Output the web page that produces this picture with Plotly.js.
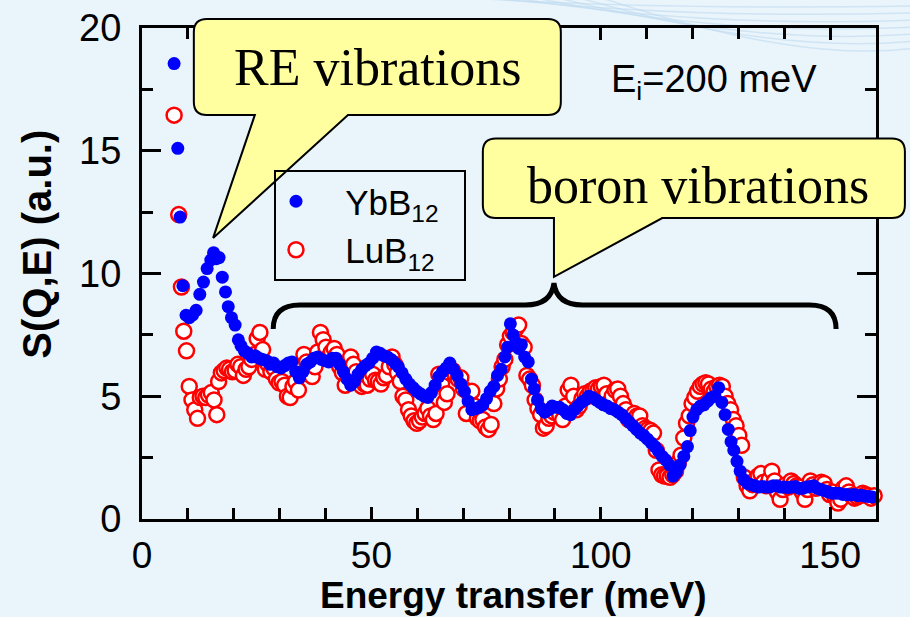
<!DOCTYPE html>
<html>
<head>
<meta charset="utf-8">
<script src="https://cdn.plot.ly/plotly-3.0.1.min.js"></script>
<style>
  html, body { margin: 0; padding: 0; background: #eaf4fb; }
  #chart { width: 910px; height: 617px; }
</style>
</head>
<body>
<div id="chart"></div>
<script>
// ---- Measured spectra: S(Q,E) vs energy transfer, Ei = 200 meV ----
const ybEnergy = [7.0,7.8,8.3,8.9,9.6,10.3,11.0,11.8,12.6,13.4,14.2,15.0,15.6,16.2,16.8,17.5,18.2,18.8,19.5,20.3,
  21.0,21.6,22.3,23.1,23.9,24.7,25.5,26.3,27.1,27.9,28.7,29.5,30.3,31.1,31.9,32.7,33.5,34.3,35.1,35.9,
  36.7,37.5,38.3,39.1,39.9,40.7,41.5,42.3,43.1,43.9,44.7,45.5,46.3,47.1,47.9,48.7,49.5,50.3,51.1,51.9,
  52.7,53.5,54.3,55.1,55.9,56.7,57.5,58.3,59.1,59.9,60.7,61.5,62.3,63.1,63.9,64.7,65.5,66.3,67.1,67.9,
  68.7,69.5,70.3,71.1,71.9,72.7,73.5,74.3,75.1,75.9,76.7,77.5,78.3,79.1,79.7,80.3,80.9,81.5,82.1,82.7,
  83.4,84.2,84.9,85.5,86.2,87.0,87.8,88.6,89.4,90.2,91.0,91.8,92.6,93.4,94.2,95.0,95.8,96.6,97.4,98.2,
  99.0,99.8,100.6,101.4,102.2,103.0,103.8,104.6,105.4,106.2,107.0,107.8,108.6,109.4,110.2,111.0,111.8,112.6,113.4,114.2,
  115.0,115.8,116.5,117.3,118.1,118.9,119.5,120.1,120.9,121.7,122.5,123.3,124.1,124.9,125.7,126.4,127.1,127.8,128.4,129.0,
  129.7,130.4,131.2,132.0,132.8,133.6,134.4,135.2,136.0,136.8,137.6,138.4,139.2,140.0,140.8,141.6,142.4,143.2,144.0,144.8,
  145.6,146.4,147.2,148.0,148.8,149.6,150.4,151.2,152.0,152.8,153.6,154.4,155.2,156.0,156.8,157.6,158.4,159.2];
const ybIntensity = [18.55,15.1,12.3,9.5,8.3,8.2,8.3,8.5,9.15,9.65,10.2,10.55,10.85,10.6,10.65,9.85,9.25,8.65,8.2,7.9,
  7.3,7.05,6.85,6.75,6.6,6.65,6.55,6.5,6.45,6.3,6.35,6.2,6.15,6.25,6.35,6.4,6.0,5.75,6.0,6.3,
  6.4,6.55,6.6,6.5,6.45,6.4,6.55,6.55,6.3,6.0,5.7,5.45,5.6,5.9,6.1,6.25,6.35,6.55,6.8,6.75,
  6.65,6.6,6.5,6.35,6.2,5.95,5.7,5.5,5.35,5.2,5.1,5.0,4.95,5.15,5.45,5.8,6.0,6.15,6.35,6.1,
  5.85,5.5,5.2,4.8,4.45,4.5,4.55,4.65,4.9,5.2,5.4,5.85,6.1,6.6,7.0,7.95,7.5,7.2,6.95,7.1,
  6.6,6.4,5.7,5.3,4.85,4.5,4.35,4.45,4.6,4.55,4.55,4.45,4.3,4.25,4.45,4.6,4.75,4.85,5.0,4.95,
  4.85,4.75,4.65,4.6,4.5,4.45,4.35,4.25,4.1,3.95,3.8,3.65,3.5,3.4,3.25,3.1,2.95,2.75,2.55,2.4,
  2.2,1.75,1.9,2.2,2.55,2.95,3.6,4.15,4.45,4.6,4.65,4.8,4.95,5.0,5.35,4.75,4.25,3.65,3.15,2.8,
  2.35,1.95,1.6,1.45,1.4,1.35,1.3,1.32,1.3,1.3,1.35,1.35,1.3,1.3,1.28,1.3,1.32,1.25,1.25,1.3,
  1.32,1.35,1.25,1.2,1.15,1.1,1.05,1.05,1.05,1.0,1.0,0.98,1.0,0.95,0.97,0.93,0.92,0.9];

const luEnergy = [7.0,8.0,8.6,9.1,9.7,10.3,10.9,11.5,12.1,12.7,13.3,13.9,14.5,15.1,15.7,16.3,16.7,17.3,17.9,18.5,
  19.1,19.7,20.3,20.9,21.5,22.1,22.7,23.3,23.9,24.5,25.1,25.7,26.3,26.9,27.5,28.1,28.7,29.3,29.9,30.5,
  31.1,31.7,32.3,32.9,33.5,34.1,34.7,35.3,35.9,36.5,37.1,37.7,38.3,38.9,39.5,40.1,40.7,41.3,41.9,42.5,
  43.1,43.7,44.3,44.9,45.5,46.1,46.7,47.3,47.9,48.5,49.1,49.7,50.3,50.9,51.5,52.1,52.7,53.3,53.9,54.5,
  55.1,55.7,56.3,56.9,57.5,58.1,58.7,59.3,59.9,60.5,61.1,61.7,62.3,62.9,63.5,64.1,64.7,65.3,65.9,66.5,
  67.1,67.7,68.3,68.9,69.5,70.1,70.7,71.3,71.9,72.5,73.1,73.7,74.3,74.9,75.5,76.1,76.7,77.3,77.9,78.5,
  79.1,79.7,80.3,80.9,81.5,82.1,82.7,83.3,83.9,84.5,85.1,85.7,86.3,86.9,87.5,88.1,88.7,89.3,89.9,90.5,
  91.1,91.7,92.3,92.9,93.5,94.1,94.7,95.3,95.9,96.5,97.1,97.7,98.3,98.9,99.5,100.1,100.7,101.3,101.9,102.5,
  103.1,103.7,104.3,104.9,105.5,106.1,106.7,107.3,107.9,108.5,109.1,109.7,110.3,110.9,111.5,112.1,112.7,113.3,113.9,114.5,
  115.1,115.7,116.3,116.9,117.5,118.1,118.7,119.3,119.9,120.5,121.1,121.7,122.3,122.9,123.5,124.1,124.7,125.3,125.9,126.5,
  127.1,127.7,128.3,128.9,129.5,130.1,130.7,131.3,131.9,132.5,133.1,133.7,134.3,134.9,135.5,136.1,136.7,137.3,137.9,138.5,
  139.1,139.7,140.3,140.9,141.5,142.1,142.7,143.3,143.9,144.5,145.1,145.7,146.3,146.9,147.5,148.1,148.7,149.3,149.9,150.5,
  151.1,151.7,152.3,152.9,153.5,154.1,154.7,155.3,155.9,156.5,157.1,157.7,158.3,158.9,159.6];
const luIntensity = [16.45,12.4,9.45,7.65,6.85,5.4,4.85,4.45,4.1,4.95,5.0,4.95,5.05,5.15,4.85,4.25,5.6,5.95,6.05,6.15,
  6.1,6.0,6.05,6.3,6.2,5.85,6.1,6.2,6.5,6.7,7.35,7.6,6.9,6.1,6.3,6.0,6.15,5.7,5.55,5.6,
  5.45,5.0,4.95,5.4,5.6,5.25,5.9,6.7,6.4,5.9,5.8,6.2,6.8,7.6,7.3,7.0,6.6,6.8,6.95,6.7,
  6.2,5.95,5.45,5.8,6.6,6.3,6.0,5.6,5.4,5.5,5.45,5.7,5.9,5.65,5.6,5.5,5.75,5.85,6.2,6.6,
  6.3,5.95,5.6,5.0,4.85,4.45,4.2,4.0,3.9,4.0,4.15,4.3,4.5,4.2,4.05,4.3,5.9,5.5,4.75,5.1,
  5.95,6.05,5.85,5.7,5.75,5.3,4.3,5.1,5.2,4.6,4.1,4.0,4.05,3.75,3.65,3.85,4.7,5.3,5.7,6.2,
  6.5,7.1,7.45,7.6,7.75,7.9,7.15,7.0,5.85,5.7,5.45,4.85,4.5,4.25,3.7,3.8,4.1,4.2,4.35,4.45,
  4.2,4.05,4.6,5.25,5.45,5.0,4.45,4.6,4.9,5.1,5.0,5.2,5.25,5.35,5.3,5.4,5.45,5.1,4.75,5.0,
  5.25,5.3,5.0,4.7,4.45,4.05,4.0,4.3,4.2,4.2,3.8,3.7,3.65,3.6,3.5,2.8,2.0,1.8,1.75,1.75,
  1.7,1.8,1.95,2.3,2.6,3.3,3.9,4.2,4.7,4.95,5.2,5.4,5.5,5.55,5.5,5.3,5.2,5.4,5.45,5.4,
  5.0,4.7,4.45,4.05,3.8,3.4,3.0,1.7,1.35,1.15,1.4,1.6,1.75,1.85,1.5,1.35,1.6,1.95,1.55,1.1,
  0.8,1.2,1.4,1.3,1.55,1.45,1.35,1.3,1.1,0.8,1.2,1.55,1.4,1.25,1.35,1.5,1.45,1.2,1.0,1.1,
  0.9,0.65,0.8,1.25,1.35,1.1,0.95,0.85,0.9,0.95,1.05,1.0,0.95,0.85,0.95];

const seriesNames = ['YbB<sub>12</sub>', 'LuB<sub>12</sub>'];
const xTicks = [0, 50, 100, 150];
const yTicks = [0, 5, 10, 15, 20];
const X_RANGE = [0, 160];
const Y_RANGE = [0, 20];

// ---- Page geometry ----
const W = 910, H = 617;
const M = { l: 142, r: 34, t: 28, b: 98 };
const plotW = W - M.l - M.r, plotH = H - M.t - M.b;
const BG = '#eaf4fb';
const CALLOUT_FILL = '#ffffa0';
const SANS = 'Liberation Sans, Arial, sans-serif';
const SERIF = 'Liberation Serif, Times New Roman, serif';
const NB = '\u00a0';

// data units -> paper fraction
function fx(x) { return (x - X_RANGE[0]) / (X_RANGE[1] - X_RANGE[0]); }
function fy(y) { return (y - Y_RANGE[0]) / (Y_RANGE[1] - Y_RANGE[0]); }
function pt(x, y) { return fx(x).toFixed(5) + ',' + fy(y).toFixed(5); }
// pixel -> paper fraction (for page decoration)
function ppt(px, py) { return ((px - M.l) / plotW).toFixed(5) + ',' + ((H - M.b - py) / plotH).toFixed(5); }

// corner radius expressed in data units along each axis
const R_PX = 13;
const rX = R_PX * (X_RANGE[1] - X_RANGE[0]) / plotW;
const rY = R_PX * (Y_RANGE[1] - Y_RANGE[0]) / plotH;

// rounded speech bubble with a pointer leaving its lower edge
function callout(b, t) {
  return [
    'M', pt(b.x0 + rX, b.y1), 'L', pt(b.x1 - rX, b.y1),
    'Q', pt(b.x1, b.y1), pt(b.x1, b.y1 - rY),
    'L', pt(b.x1, b.y0 + rY),
    'Q', pt(b.x1, b.y0), pt(b.x1 - rX, b.y0),
    'L', pt(t.b, b.y0), 'L', pt(t.tipX, t.tipY), 'L', pt(t.a, b.y0),
    'L', pt(b.x0 + rX, b.y0),
    'Q', pt(b.x0, b.y0), pt(b.x0, b.y0 + rY),
    'L', pt(b.x0, b.y1 - rY),
    'Q', pt(b.x0, b.y1), pt(b.x0 + rX, b.y1), 'Z'
  ].join(' ');
}

// horizontal curly brace opening downward, point at mid
function brace(x0, x1, mid, yEnd, yBar, yTip) {
  const c = 5.8, m = 6.2;
  return [
    'M', pt(x0, yEnd),
    'Q', pt(x0, yBar), pt(x0 + c, yBar),
    'L', pt(mid - m, yBar),
    'Q', pt(mid - 0.6, yBar), pt(mid, yTip),
    'Q', pt(mid + 0.6, yBar), pt(mid + m, yBar),
    'L', pt(x1 - c, yBar),
    'Q', pt(x1, yBar), pt(x1, yEnd)
  ].join(' ');
}

const reBox = { x0: 11.3, x1: 91.3, y0: 16.46, y1: 20.37 };
const reTail = { a: 24.6, b: 44.9, tipX: 15.5, tipY: 11.45 };
const boronBox = { x0: 74.3, x1: 166.3, y0: 12.26, y1: 15.5 };
const boronTail = { a: 89.8, b: 113.4, tipX: 89.8, tipY: 9.86 };

// faint sweeping lines of the slide background
const arcShapes = [];
for (let i = 0; i < 7; i++) {
  const sx = 470 + i * 22, ex = 915, ey = 6 + i * 7;
  arcShapes.push({
    type: 'path', xref: 'paper', yref: 'paper', layer: 'below',
    path: 'M ' + ppt(sx, -2) + ' Q ' + ppt(650 + i * 25, 10 + i * 9) + ' ' + ppt(ex, ey),
    line: { color: 'rgba(190,218,240,0.6)', width: 1.5 }
  });
}

const traces = [
  {
    x: luEnergy, y: luIntensity, name: NB + NB + NB + seriesNames[1] + NB + NB,
    type: 'scatter', mode: 'markers', cliponaxis: false, legendrank: 2,
    marker: { symbol: 'circle', size: 15, color: 'white', line: { color: '#ff0000', width: 2.5 } }
  },
  {
    x: ybEnergy, y: ybIntensity, name: NB + NB + NB + seriesNames[0] + NB + NB,
    type: 'scatter', mode: 'markers', cliponaxis: false, legendrank: 1,
    marker: { symbol: 'circle', size: 13, color: '#0000ff', line: { width: 0 } }
  }
];

const axisCommon = {
  showline: true, linecolor: 'black', linewidth: 3, mirror: 'allticks',
  ticks: 'inside', tickcolor: 'black', tickwidth: 3,
  showgrid: false, zeroline: false, fixedrange: true
};

const layout = {
  width: W, height: H, autosize: false,
  margin: { l: M.l, r: M.r, t: M.t, b: M.b, pad: 0 },
  paper_bgcolor: BG, plot_bgcolor: BG,
  font: { family: SANS, color: 'black' },
  xaxis: Object.assign({}, axisCommon, {
    range: X_RANGE, tickmode: 'array', tickvals: xTicks, ticktext: xTicks.map(String),
    ticklen: 12, ticklabelstandoff: 2,
    tickfont: { family: SANS, size: 37, color: 'black' },
    minor: { dtick: 10, tick0: 0, ticks: 'inside', ticklen: 11, tickwidth: 3, tickcolor: 'black', showgrid: false }
  }),
  yaxis: Object.assign({}, axisCommon, {
    range: Y_RANGE, tickmode: 'array', tickvals: yTicks, ticktext: yTicks.map(String),
    ticklen: 19, ticklabelstandoff: 10,
    tickfont: { family: SANS, size: 38, color: 'black' },
    minor: { dtick: 2.5, tick0: 0, ticks: 'inside', ticklen: 11, tickwidth: 3, tickcolor: 'black', showgrid: false }
  }),
  showlegend: true,
  legend: {
    x: (274 - M.l) / plotW, y: (H - M.b - 170) / plotH, xanchor: 'left', yanchor: 'top',
    bgcolor: 'rgba(0,0,0,0)', bordercolor: 'black', borderwidth: 2,
    font: { family: SANS, size: 35, color: 'black' },
    itemwidth: 30, tracegroupgap: 0, itemclick: false, itemdoubleclick: false
  },
  shapes: arcShapes.concat([
    { type: 'path', xref: 'paper', yref: 'paper', layer: 'above',
      path: callout(reBox, reTail), fillcolor: CALLOUT_FILL, line: { color: 'black', width: 2 } },
    { type: 'path', xref: 'paper', yref: 'paper', layer: 'above',
      path: callout(boronBox, boronTail), fillcolor: CALLOUT_FILL, line: { color: 'black', width: 2 } },
    { type: 'path', xref: 'paper', yref: 'paper', layer: 'above',
      path: brace(28.6, 151.3, 89.8, 7.74, 8.72, 9.61), line: { color: 'black', width: 5 } }
  ]),
  annotations: [
    { xref: 'paper', yref: 'paper', x: fx(51.4), y: 0.919, xanchor: 'center', yanchor: 'middle',
      text: 'RE vibrations', showarrow: false, font: { family: SERIF, size: 52, color: 'black' } },
    { xref: 'paper', yref: 'paper', x: 0.7575, y: 0.679, xanchor: 'center', yanchor: 'middle',
      text: 'boron vibrations', showarrow: false, font: { family: SERIF, size: 52, color: 'black' } },
    { xref: 'paper', yref: 'paper', x: (609 - M.l) / plotW, y: 0.89, xanchor: 'left', yanchor: 'middle',
      text: 'E<sub>i</sub>=200 meV', showarrow: false, font: { family: SANS, size: 38, color: 'black' } },
    { xref: 'paper', yref: 'paper', x: 0.5068, y: (H - M.b - 595.5) / plotH, xanchor: 'center', yanchor: 'middle',
      text: '<b>Energy transfer (meV)</b>', showarrow: false, font: { family: SANS, size: 37, color: 'black' } },
    { xref: 'paper', yref: 'paper', x: -0.1436, y: 0.56, xanchor: 'center', yanchor: 'middle', textangle: -90,
      text: '<b>S(Q,E) (a.u.)</b>', showarrow: false, font: { family: SANS, size: 40, color: 'black' } }
  ]
};

Plotly.newPlot('chart', traces, layout, { staticPlot: true, displayModeBar: false });
</script>
</body>
</html>
